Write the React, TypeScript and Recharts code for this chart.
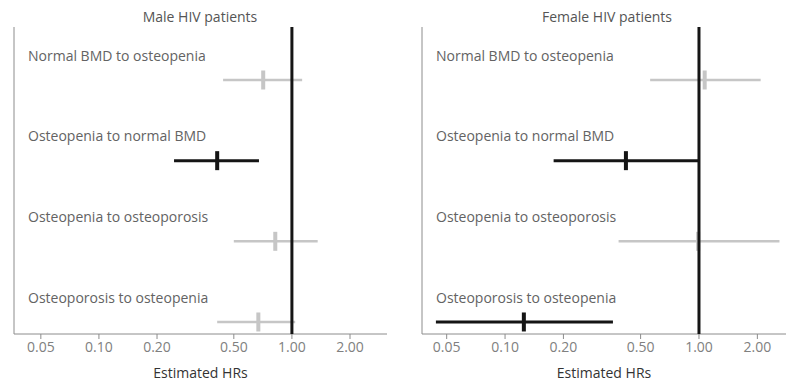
import React from 'react';
import { ScatterChart, Scatter, XAxis, YAxis, ReferenceLine } from 'recharts';

// Transition rows, top to bottom
const rowLabels = [
  'Normal BMD to osteopenia',
  'Osteopenia to normal BMD',
  'Osteopenia to osteoporosis',
  'Osteoporosis to osteopenia',
];
const rowIndex = [1, 2, 3, 4];

// Male HIV patients: hazard ratios with 95% CI
const maleHR = [0.71, 0.41, 0.82, 0.67];
const maleLower = [0.44, 0.245, 0.5, 0.41];
const maleUpper = [1.13, 0.675, 1.36, 1.04];
const maleSignificant = [false, true, false, false];

// Female HIV patients: hazard ratios with 95% CI
const femaleHR = [1.07, 0.42, 0.99, 0.125];
const femaleLower = [0.56, 0.178, 0.385, 0.044];
const femaleUpper = [2.08, 0.99, 2.6, 0.36];
const femaleSignificant = [false, true, false, true];

const xTicks = [0.05, 0.1, 0.2, 0.5, 1, 2];

const GRAY = '#c6c6c6';
const BLACK = '#151515';
const AXIS = '#8c8c8c';
const FONT = '"Open Sans", sans-serif';

type Row = { row: number; hr: number; lo: number; hi: number; sig: boolean };

const buildRows = (hr: number[], lo: number[], hi: number[], sig: boolean[]): Row[] =>
  rowIndex.map((r, i) => ({ row: r, hr: hr[i], lo: lo[i], hi: hi[i], sig: sig[i] }));

const maleRows = buildRows(maleHR, maleLower, maleUpper, maleSignificant);
const femaleRows = buildRows(femaleHR, femaleLower, femaleUpper, femaleSignificant);

// Point estimate drawn as a short vertical bar
const EstimateMark = (props: any) => {
  const { cx, cy, fill } = props;
  if (cx == null || cy == null) return null;
  return <rect x={cx - 2} y={cy - 9.5} width={4} height={19} fill={fill} />;
};

// Row name printed above each interval, left aligned inside the plot
const RowLabel = (props: any) => {
  const { x, y, payload } = props;
  return (
    <text
      x={x + 14}
      y={y - 23}
      fill="#636363"
      fontSize={14}
      fontFamily={FONT}
      textAnchor="start"
      dominantBaseline="middle"
    >
      {rowLabels[payload.value - 1]}
    </text>
  );
};

type PanelProps = {
  rows: Row[];
  domain: [number, number];
  width: number;
  marginLeft: number;
  marginRight: number;
};

const ForestPanel = ({ rows, domain, width, marginLeft, marginRight }: PanelProps) => {
  const plain = rows.filter((r) => !r.sig);
  const strong = rows.filter((r) => r.sig);
  return (
    <ScatterChart
      width={width}
      height={386}
      margin={{ top: 27, right: marginRight, left: marginLeft, bottom: 0 }}
    >
      <XAxis
        dataKey="hr"
        type="number"
        scale="log"
        domain={domain}
        allowDataOverflow
        ticks={xTicks}
        tickFormatter={(v: number) => v.toFixed(2)}
        height={52}
        stroke={AXIS}
        tick={{ fill: '#808080', fontSize: 14, fontFamily: FONT }}
        tickSize={5}
        tickMargin={3}
        label={{
          value: 'Estimated HRs',
          position: 'insideBottom',
          offset: 8,
          fill: '#333333',
          fontSize: 14,
          fontFamily: FONT,
        }}
      />
      <YAxis
        dataKey="row"
        type="number"
        domain={[0.343, 4.149]}
        reversed
        ticks={rowIndex}
        width={1}
        tickSize={0}
        tickMargin={0}
        tickLine={false}
        stroke={AXIS}
        tick={RowLabel}
      />
      {plain.map((r) => (
        <ReferenceLine
          key={`p${r.row}`}
          segment={[
            { x: r.lo, y: r.row },
            { x: r.hi, y: r.row },
          ]}
          stroke={GRAY}
          strokeWidth={2.5}
          ifOverflow="visible"
        />
      ))}
      <Scatter data={plain} fill={GRAY} shape={<EstimateMark />} isAnimationActive={false} />
      <ReferenceLine x={1} stroke={BLACK} strokeWidth={3} {...({ zIndex: 650 } as any)} />
      {strong.map((r) => (
        <ReferenceLine
          key={`s${r.row}`}
          segment={[
            { x: r.lo, y: r.row },
            { x: r.hi, y: r.row },
          ]}
          stroke={BLACK}
          strokeWidth={3}
          ifOverflow="visible"
          {...({ zIndex: 660 } as any)}
        />
      ))}
      <Scatter
        data={strong}
        fill={BLACK}
        shape={<EstimateMark />}
        isAnimationActive={false}
        {...({ zIndex: 670 } as any)}
      />
    </ScatterChart>
  );
};

const titleStyle = (center: number): React.CSSProperties => ({
  position: 'absolute',
  top: 7,
  left: center - 150,
  width: 300,
  textAlign: 'center',
  fontFamily: FONT,
  fontSize: 14,
  lineHeight: '20px',
  color: '#555555',
});

export default function App() {
  return (
    <div
      style={{
        position: 'absolute',
        left: 0,
        top: 0,
        width: 786,
        height: 386,
        overflow: 'hidden',
        background: '#ffffff',
      }}
    >
      <div style={{ position: 'absolute', left: 0, top: 0 }}>
        <ForestPanel rows={maleRows} domain={[0.0363, 3.11]} width={393} marginLeft={13} marginRight={6} />
      </div>
      <div style={{ position: 'absolute', left: 393, top: 0 }}>
        <ForestPanel rows={femaleRows} domain={[0.0373, 2.81]} width={393} marginLeft={28} marginRight={0} />
      </div>
      <div style={titleStyle(200)}>Male HIV patients</div>
      <div style={titleStyle(607)}>Female HIV patients</div>
    </div>
  );
}
